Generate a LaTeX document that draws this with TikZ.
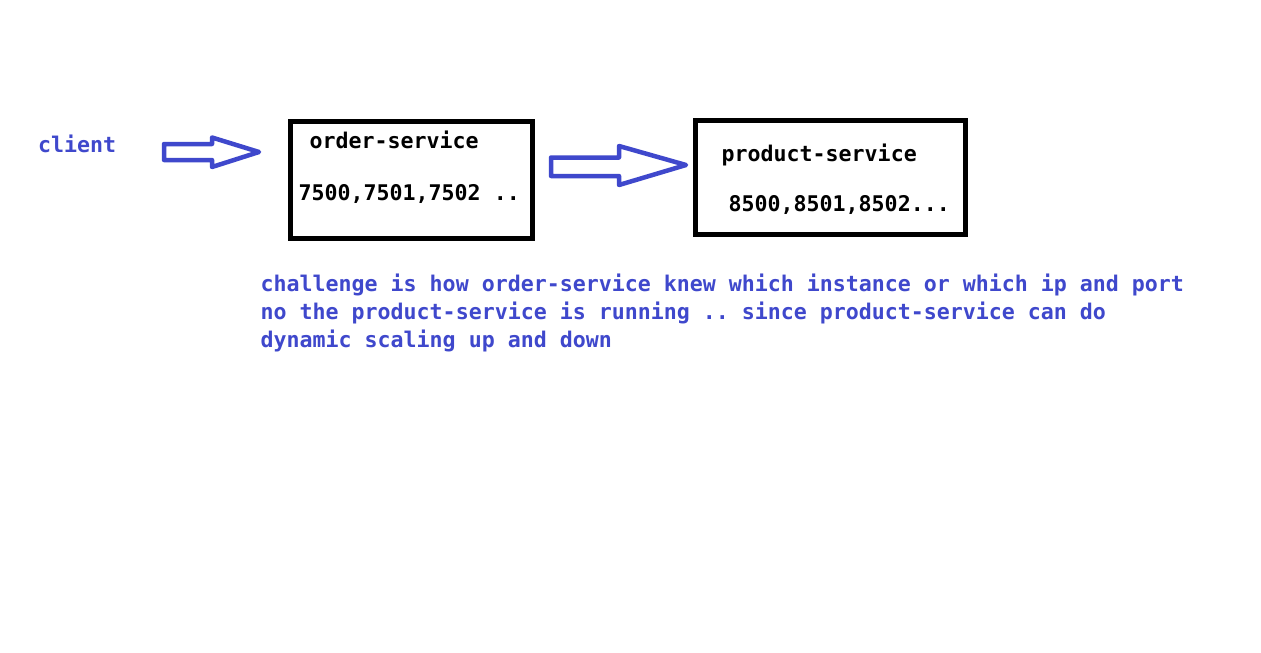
\documentclass[tikz,border=0pt]{standalone}
\usepackage{fontspec}
\setmonofont{DejaVu Sans Mono}
\usepackage{tikz}
\usetikzlibrary{positioning}
\definecolor{paintblue}{RGB}{63,72,204}

\tikzset{
  mono/.style={font=\ttfamily\bfseries\fontsize{21.6}{28}\selectfont,
    inner sep=0pt, anchor=base west},
  box/.style={draw=black, line width=5pt, inner sep=0pt},
  blockarrow/.style={draw=paintblue, line width=4.5pt, line join=round}
}

\begin{document}
\begin{tikzpicture}[x=1pt, y=-1pt]
    \useasboundingbox[fill=white] (0,0) rectangle (1261,653);

    % the two services
    \node[box, minimum width=242pt, minimum height=117pt] (order) at (411.5,180) {};
    \node[box, minimum width=270pt, minimum height=114pt] (product) at (830.5,177.5) {};

    \node[mono, text=paintblue] (client) at (38,152) {client};

    \node[mono] (ordername) at (309.5,148) {order-service};
    \node[mono] (orderports) at (298.5,200) {7500,7501,7502 ..};

    \node[mono] (productname) at (721.5,161) {product-service};
    \node[mono] (productports) at (728.5,211) {8500,8501,8502...};

    % hollow arrows
    \coordinate (a1 tail) at (164,152);
    \coordinate (a1 tip) at (259,152);
    \coordinate (a2 tail) at (551,167);
    \coordinate (a2 tip) at (686,165);

    \draw[blockarrow] (a1 tail) ++(0,-8) -- ++(48,0) -- ++(0,-6.5)
        -- (a1 tip) -- ++(-47,15) -- ++(0,-7) -- ++(-48,0) -- cycle;
    \draw[blockarrow] (a2 tail) ++(0,-9.5) -- ++(68,0) -- ++(0,-11.5)
        -- (a2 tip) -- ++(-67,20) -- ++(0,-9) -- ++(-68,0) -- cycle;

    % note below
    \node[mono, text=paintblue] (note1) at (260.5,291)
        {challenge is how order-service knew which instance or which ip and port};
    \node[mono, text=paintblue] (note2) at (260.5,319)
        {no the product-service is running .. since product-service can do};
    \node[mono, text=paintblue] (note3) at (260.5,347)
        {dynamic scaling up and down};
\end{tikzpicture}
\end{document}
